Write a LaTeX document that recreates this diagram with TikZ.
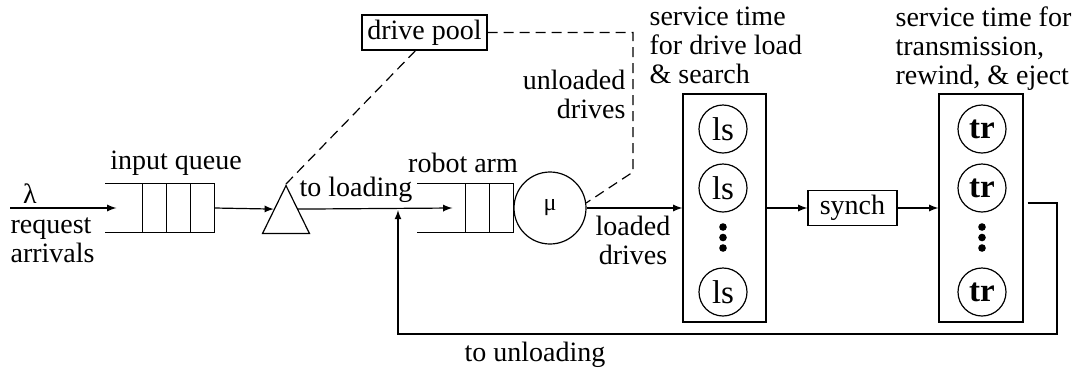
\documentclass[tikz,border=0pt]{standalone}
\usepackage{fontspec}
\setmainfont{Liberation Serif}
\usetikzlibrary{shapes,arrows,positioning,calc}

\begin{document}
\begin{tikzpicture}[
    x=0.5pt, y=-0.5pt,
    line width=0.6pt,
    font=\fontsize{14}{14.5}\selectfont,
    lbl/.style={inner sep=0pt},
    queuebox/.style={rectangle, minimum height=24pt, inner sep=0pt},
    server/.style={circle, draw, minimum size=24pt, inner sep=0pt, font=\fontsize{16.5}{17}\selectfont},
    stagebox/.style={rectangle, draw, minimum width=41.5pt, minimum height=114pt},
    plainbox/.style={rectangle, draw, inner sep=0pt, minimum height=17.5pt},
    dotmark/.style={circle, fill, minimum size=3.8pt, inner sep=0pt},
    arrow/.style={->, >=latex},
    link/.style={dashed, dash pattern=on 5pt off 3pt}
]
    \useasboundingbox (0,0) rectangle (1081,371);

    % queues and servers
    \node[queuebox, minimum width=54pt] (inq) at (160,208) {};
    \draw (inq.north west) -- (inq.north east) -- (inq.south east) -- (inq.south west);
    \foreach \dx in {-24,-48,-72}
        \draw ($(inq.north east)+(\dx,0)$) -- ($(inq.south east)+(\dx,0)$);

    \node[draw, isosceles triangle, isosceles triangle stretches, shape border rotate=90,
          minimum width=23.5pt, minimum height=24pt, inner sep=0pt, anchor=apex] (split) at (286,184) {};

    \node[queuebox, minimum width=47.5pt] (armq) at (465.5,208) {};
    \draw (armq.north west) -- (armq.north east) -- (armq.south east) -- (armq.south west);
    \foreach \dx in {-24,-48}
        \draw ($(armq.north east)+(\dx,0)$) -- ($(armq.south east)+(\dx,0)$);

    \node[server, minimum size=36pt] (arm) at (550,208) {\fontsize{12}{12}\selectfont μ};

    \node[plainbox, minimum width=62.5pt] (pool) at (424.5,32.5) {drive pool};
    \node[plainbox, minimum width=44.5pt] (synch) at (852.5,208) {synch};

    \node[stagebox] (lsbox) at (724.5,208) {};
    \node[stagebox, minimum width=42pt] (trbox) at (981,208) {};
    \node[server] (ls1) at (723,129) {ls};
    \node[server] (ls2) at (723,188) {ls};
    \node[server] (ls3) at (723,292) {ls};
    \node[server, font=\fontsize{16.5}{17}\selectfont\bfseries] (tr1) at (982,129) {tr};
    \node[server, font=\fontsize{16.5}{17}\selectfont\bfseries] (tr2) at (982,188) {tr};
    \node[server, font=\fontsize{16.5}{17}\selectfont\bfseries] (tr3) at (982,292) {tr};
    \foreach \y [count=\i] in {227,237.5,248} {
        \node[dotmark] (lsdot\i) at (723,\y) {};
        \node[dotmark] (trdot\i) at (982,\y) {};
    }

    % labels
    \node[lbl] (inqlbl) at (176,163) {input queue};
    \node[lbl] (armlbl) at (463,163) {robot arm};
    \node[lbl, anchor=south] (lam) at (30,204) {λ};
    \node[lbl, align=left, anchor=north west] (arrlbl) at (10,217) {request\\arrivals};
    \node[lbl, anchor=south west] (toload) at (299,203) {to loading};
    \node[lbl, align=right, anchor=east] (unld) at (626,94) {unloaded\\drives};
    \node[lbl, align=center] (ld) at (633,240) {loaded\\drives};
    \node[lbl] (tounld) at (535,355) {to unloading};
    \node[lbl, align=left, anchor=north west] (lstxt) at (649,6) {service time\\for drive load\\\& search};
    \node[lbl, align=left, anchor=north west] (trtxt) at (895,6) {service time for\\transmission,\\rewind, \& eject};

    % connectors
    \coordinate (src) at (10,208);
    \coordinate (bend) at (633,172);
    \coordinate (retcorner) at (1057,334);
    \coordinate (ret) at (398,210);

    \draw[arrow] (src) -- ([xshift=5.5pt]inq.west);
    \draw[arrow] (inq.east) -- (split.left side);
    \draw[arrow] (split.right side) -- ([xshift=17.5pt]armq.west);
    \draw[arrow] (arm.east) -- (lsbox.west);
    \draw[arrow] (lsbox.east) -- (synch.west);
    \draw[arrow] (synch.east) -- (trbox.west);
    \draw[arrow] ([xshift=2pt,yshift=2.5pt]trbox.east) -| (retcorner) -| (ret);

    \draw[link] ([xshift=-4.5pt]pool.south) -- (split.apex);
    \draw[link] (pool.east) -| (bend) -- (arm.8);
\end{tikzpicture}
\end{document}
